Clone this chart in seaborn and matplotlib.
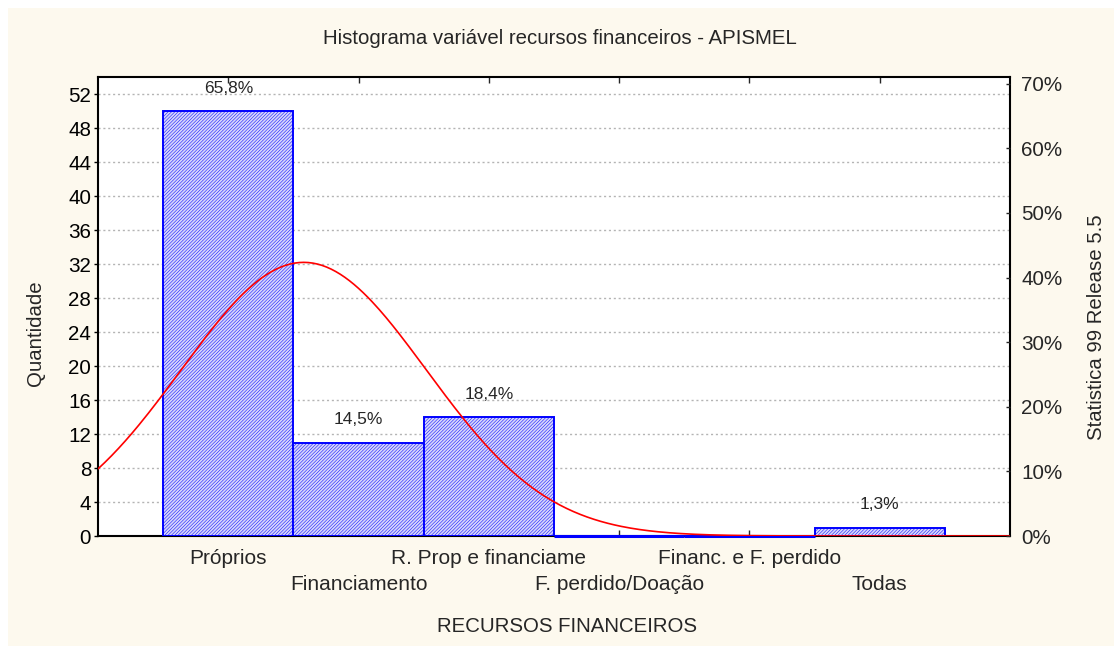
import numpy as np
import pandas as pd
import matplotlib
matplotlib.use('Agg')
import matplotlib.pyplot as plt
from matplotlib.patches import Rectangle
from matplotlib.ticker import FuncFormatter
import seaborn as sns

categorias = ['Próprios', 'Financiamento', 'R. Prop e financiame',
              'F. perdido/Doação', 'Financ. e F. perdido', 'Todas']
quantidade = [50, 11, 14, 0, 0, 1]
yticks_esq = list(range(0, 53, 4))
yticks_dir = list(range(0, 71, 10))

titulo = 'Histograma variável recursos financeiros - APISMEL'
xlabel = 'RECURSOS FINANCEIROS'
ylabel = 'Quantidade'
rodape = 'Statistica 99 Release 5.5'

sns.set_style('white')
plt.rcParams['font.family'] = ['Liberation Sans', 'DejaVu Sans']
plt.rcParams['hatch.linewidth'] = 0.35

W, H = 1114, 646
fig = plt.figure(figsize=(W / 100, H / 100), dpi=100, facecolor='white')
fig.patches.append(Rectangle((8 / W, 0), 1 - 8 / W, 1 - 8 / H, transform=fig.transFigure,
                             facecolor='#fdf9ee', edgecolor='none', zorder=-5))

ax = fig.add_axes([98 / W, 1 - 536 / H, 912 / W, 459 / H])
ax.set_facecolor('white')

df = pd.DataFrame({'cat': categorias, 'n': quantidade})
N = df['n'].sum()

sns.barplot(data=df, x='cat', y='n', width=1.0, color='#d6d6fa', saturation=1,
            edgecolor='#0000ff', linewidth=1.4, hatch='//////////', ax=ax)
for p in ax.patches:
    p.set_zorder(3)

# categorias sem casos: o Statistica desenha só a linha da base
for i, v in enumerate(quantidade):
    if v == 0:
        ax.plot([i - 0.5, i + 0.5], [0, 0], color='#0000ff', linewidth=2.2,
                zorder=3.5, clip_on=False, solid_capstyle='butt')

# curva normal ajustada aos dados
codigos = np.repeat(np.arange(len(categorias)), quantidade)
mu, sd = codigos.mean(), codigos.std(ddof=1)
xs = np.linspace(-1, 6, 400)
ys = N / (sd * np.sqrt(2 * np.pi)) * np.exp(-0.5 * ((xs - mu) / sd) ** 2)
sns.lineplot(x=xs, y=ys, color='#ff0000', linewidth=1.2, ax=ax, zorder=4)

ax.set_xlim(-1, 6)
ax.set_ylim(0, 54)
ax.set_yticks(yticks_esq)
ax.yaxis.grid(True, linestyle=(0, (1.5, 2)), color='#b4b4b4', linewidth=1.0, zorder=0)
ax.set_axisbelow(True)
ax.set_xticks(range(len(categorias)))
ax.set_xticklabels([])
ax.tick_params(axis='x', direction='in', length=4, width=1, top=True, bottom=True)
ax.tick_params(axis='y', direction='out', length=3, width=1, labelsize=14.9, pad=2, colors='black')
ax.set_xlabel('')
ax.set_ylabel('')
for s in ax.spines.values():
    s.set_color('black')
    s.set_linewidth(1.5)

for i, c in enumerate(categorias):
    yy = -22 / 459 if i % 2 == 0 else -49 / 459
    ax.text(i, yy, c, transform=ax.get_xaxis_transform(), ha='center', va='center',
            fontsize=15)

for i, v in enumerate(quantidade):
    if v > 0:
        txt = f'{v / N * 100:.1f}'.replace('.', ',') + '%'
        ax.annotate(txt, (i, v), xytext=(0, 16.5), textcoords='offset points',
                    ha='center', va='center', fontsize=12.5)

ax2 = ax.twinx()
ax2.set_ylim(0, 54 / N * 100)
ax2.set_yticks(yticks_dir)
ax2.yaxis.set_major_formatter(FuncFormatter(lambda v, p: f'{v:.0f}%'))
ax2.tick_params(axis='y', direction='in', length=3, width=1, labelsize=14.9, pad=8)
for s in ax2.spines.values():
    s.set_visible(False)

fig.text(560 / W, 1 - 38 / H, titulo, ha='center', va='center', fontsize=14.7)
fig.text(567 / W, 1 - 627 / H, xlabel, ha='center', va='center', fontsize=14.7)
fig.text(35 / W, 1 - 333 / H, ylabel, ha='center', va='center', rotation=90, fontsize=14.7)
fig.text(1096 / W, 1 - 327 / H, rodape, ha='center', va='center', rotation=90, fontsize=14.7)

fig.savefig('out.png', dpi=100, facecolor=fig.get_facecolor())
